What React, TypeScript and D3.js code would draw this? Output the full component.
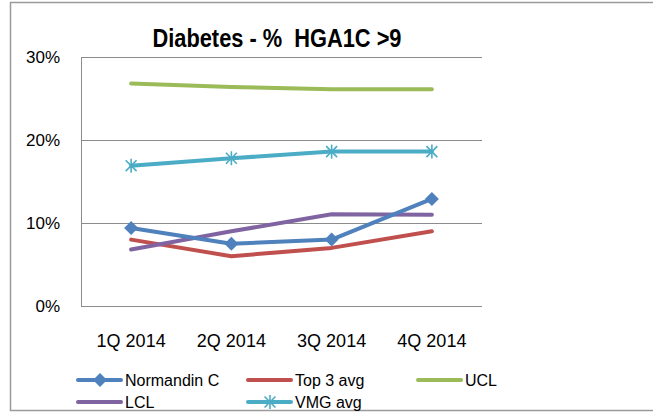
import React from "react";
import * as d3 from "d3";

const categories = ["1Q 2014", "2Q 2014", "3Q 2014", "4Q 2014"];
const normandin = [9.4, 7.5, 8.0, 12.9];
const top3 = [8.0, 6.0, 7.0, 9.0];
const ucl = [26.8, 26.4, 26.1, 26.1];
const lcl = [6.8, 9.0, 11.05, 11.0];
const vmg = [16.9, 17.8, 18.6, 18.6];
const yTicks = [0, 10, 20, 30];

const W = 653, H = 412;
const FONT = "'Liberation Sans', Arial, sans-serif";

type S = { name: string; values: number[]; color: string; marker: "none" | "diamond" | "star" };
const series: S[] = [
  { name: "UCL", values: ucl, color: "#9BBB59", marker: "none" },
  { name: "VMG avg", values: vmg, color: "#4BACC6", marker: "star" },
  { name: "Top 3 avg", values: top3, color: "#C0504D", marker: "none" },
  { name: "LCL", values: lcl, color: "#8064A2", marker: "none" },
  { name: "Normandin C", values: normandin, color: "#4F81BD", marker: "diamond" },
];

function Marker({ kind, x, y, color }: { kind: string; x: number; y: number; color: string }) {
  if (kind === "diamond") {
    const r = 7;
    return <path d={`M${x},${y - r}L${x + r},${y}L${x},${y + r}L${x - r},${y}Z`} fill={color} />;
  }
  if (kind === "star") {
    const r = 7;
    const d = r * 0.78;
    return (
      <g stroke={color} strokeWidth={1.6}>
        <line x1={x} y1={y - r} x2={x} y2={y + r} />
        <line x1={x - d} y1={y - d} x2={x + d} y2={y + d} />
        <line x1={x - d} y1={y + d} x2={x + d} y2={y - d} />
      </g>
    );
  }
  return null;
}

export default function App() {
  const left = 81, right = 482, top = 57, bottom = 306;
  const x = d3.scaleBand<string>().domain(categories).range([left, right]);
  const y = d3.scaleLinear().domain([0, 30]).range([bottom, top]);
  const cx = (c: string) => (x(c) as number) + x.bandwidth() / 2;
  const line = d3
    .line<number>()
    .x((_, i) => cx(categories[i]))
    .y((v) => y(v));

  const legend = [
    { s: series[4], lx: 78, ly: 380 },
    { s: series[2], lx: 248, ly: 380 },
    { s: series[0], lx: 418, ly: 380 },
    { s: series[3], lx: 78, ly: 402 },
    { s: series[1], lx: 248, ly: 402 },
  ];

  return (
    <svg width={W} height={H} style={{ position: "absolute", left: 0, top: 0 }} fontFamily={FONT}>
      <rect x={0} y={0} width={W} height={H} fill="#fff" />
      <rect x={10.5} y={2.5} width={W} height={408} fill="none" stroke="#9a9a9a" strokeWidth={1.5} />
      <text x={277} y={47} textAnchor="middle" fontSize={26} fontWeight="bold" textLength={249} lengthAdjust="spacingAndGlyphs" style={{ whiteSpace: "pre" }}>
        {"Diabetes - %  HGA1C >9"}
      </text>
      {yTicks.map((t) => (
        <g key={t}>
          <line x1={left} x2={right} y1={Math.round(y(t)) + 0.5} y2={Math.round(y(t)) + 0.5} stroke="#8c8c8c" strokeWidth={1} />
          <text x={60} y={y(t) + 6} textAnchor="end" fontSize={17}>
            {d3.format(".0%")(t / 100)}
          </text>
        </g>
      ))}
      <line x1={left + 0.5} x2={left + 0.5} y1={top} y2={bottom} stroke="#8c8c8c" />
      {categories.map((c) => (
        <text key={c} x={cx(c)} y={347} textAnchor="middle" fontSize={18}>
          {c}
        </text>
      ))}
      {series.map((s) => (
        <g key={s.name}>
          <path d={line(s.values) || ""} fill="none" stroke={s.color} strokeWidth={4} strokeLinecap="round" strokeLinejoin="round" />
          {s.values.map((v, i) => (
            <Marker key={i} kind={s.marker} x={cx(categories[i])} y={y(v)} color={s.color} />
          ))}
        </g>
      ))}
      {legend.map(({ s, lx, ly }) => (
        <g key={s.name}>
          <line x1={lx} x2={lx + 43} y1={ly} y2={ly} stroke={s.color} strokeWidth={4} strokeLinecap="round" />
          <Marker kind={s.marker} x={lx + 22} y={ly} color={s.color} />
          <text x={lx + 47} y={ly + 5.5} fontSize={16}>
            {s.name}
          </text>
        </g>
      ))}
    </svg>
  );
}
